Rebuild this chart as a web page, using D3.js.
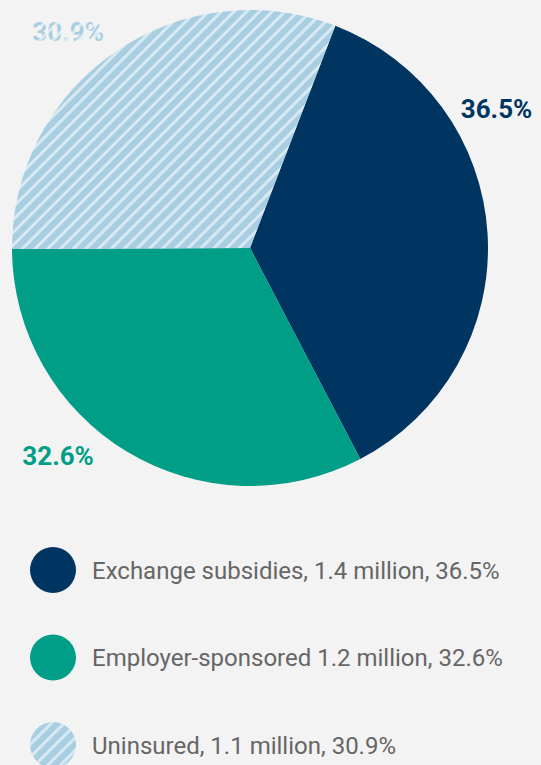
<!DOCTYPE html>
<html>
<head>
<meta charset="utf-8">
<script src="https://cdn.jsdelivr.net/npm/d3@7"></script>
<style>
  html, body { margin: 0; padding: 0; background: #f3f3f3; }
  svg { display: block; font-family: Roboto, "Noto Sans", sans-serif; }
</style>
</head>
<body>
<svg id="pie-svg" width="541" height="765"></svg>
<script>
// Chart data
const categories = ["Exchange subsidies", "Employer-sponsored", "Uninsured"];
const shares = [36.5, 32.6, 30.9];
const legendLabels = [
    "Exchange subsidies, 1.4 million, 36.5%",
    "Employer-sponsored 1.2 million, 32.6%",
    "Uninsured, 1.1 million, 30.9%"
];

// Layout / style settings
const colors = ["#003562", "#009e87", "url(#hatch)"];
const labelAnglesDeg = [60.6, 222.7, 320];
const center = { x: 250, y: 248 };
const radius = 238;
const labelRadius = 283;
const startDeg = 21.0;

const svg = d3.select("#pie-svg");

// Hatch pattern for the uninsured slice
const defs = svg.append("defs");
const pattern = defs.append("pattern")
    .attr("id", "hatch")
    .attr("patternUnits", "userSpaceOnUse")
    .attr("width", 9)
    .attr("height", 9)
    .attr("patternTransform", "rotate(45)");
pattern.append("rect")
    .attr("width", 9).attr("height", 9)
    .attr("fill", "#a8cee1");
pattern.append("rect")
    .attr("x", 0).attr("width", 3).attr("height", 9)
    .attr("fill", "#d8e9f3");

const pie = d3.pie()
    .sort(null)
    .value(d => d)
    .startAngle(startDeg * Math.PI / 180)
    .endAngle(startDeg * Math.PI / 180 + 2 * Math.PI);

const arc = d3.arc().innerRadius(0).outerRadius(radius);

const g = svg.append("g")
    .attr("transform", `translate(${center.x},${center.y})`);

// Draw slices
g.selectAll("path")
    .data(pie(shares))
    .join("path")
    .attr("d", arc)
    .attr("fill", (d, i) => colors[i]);

// Percentage labels around the pie
g.selectAll("text.pct")
    .data(shares)
    .join("text")
    .attr("class", "pct")
    .attr("x", (d, i) => labelRadius * Math.sin(labelAnglesDeg[i] * Math.PI / 180))
    .attr("y", (d, i) => -labelRadius * Math.cos(labelAnglesDeg[i] * Math.PI / 180))
    .attr("dy", "0.36em")
    .attr("text-anchor", "middle")
    .attr("font-size", 26)
    .attr("font-weight", "bold")
    .attr("fill", (d, i) => colors[i])
    .text(d => d3.format(".1f")(d) + "%");

// Legend
const legendY = d3.scalePoint()
    .domain(categories)
    .range([570, 745]);

const legend = svg.append("g").selectAll("g")
    .data(categories)
    .join("g")
    .attr("transform", d => `translate(53,${legendY(d)})`);

legend.append("circle")
    .attr("r", 23)
    .attr("fill", (d, i) => colors[i]);

legend.append("text")
    .attr("x", 39)
    .attr("dy", "0.36em")
    .attr("font-size", 24)
    .attr("fill", "#666666")
    .text((d, i) => legendLabels[i]);
</script>
</body>
</html>
